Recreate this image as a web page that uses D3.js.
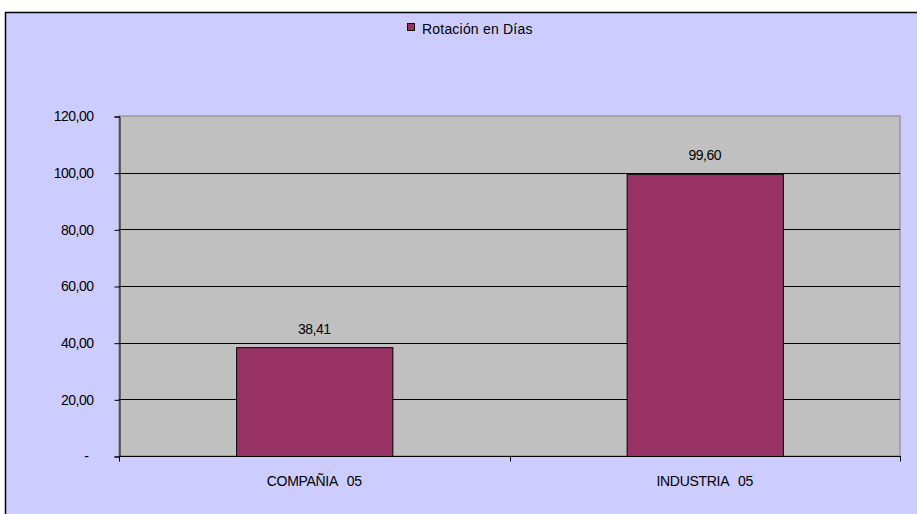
<!DOCTYPE html>
<html><head><meta charset="utf-8">
<script src="https://cdn.jsdelivr.net/npm/d3@7"></script>
<style>html,body{margin:0;padding:0;background:#fff;overflow:hidden}</style>
</head><body>
<script>
const categories = ["COMPAÑIA 05", "INDUSTRIA 05"];
const values = [38.41, 99.60];
const yTicks = [0, 20, 40, 60, 80, 100, 120];
const seriesName = "Rotación en Días";

const W = 917, H = 514;
const svg = d3.select("body").append("svg").attr("width", W).attr("height", H);
const font = "'Liberation Sans', Arial, sans-serif";

// outer frame
svg.append("rect").attr("x", 5.5).attr("y", 12.5).attr("width", 1000).attr("height", 1000)
  .attr("fill", "#CCCCFF").attr("stroke", "#000").attr("stroke-width", 1.5);

const m = {left: 119, right: 900, top: 116, bottom: 456};
const x = d3.scaleBand().domain(categories).range([m.left, m.right]).paddingInner(0.6).paddingOuter(0.3);
const y = d3.scaleLinear().domain([0, 120]).range([m.bottom, m.top]);

// plot area
svg.append("rect").attr("x", m.left).attr("y", m.top).attr("width", m.right - m.left).attr("height", m.bottom - m.top)
  .attr("fill", "#C0C0C0").attr("stroke", "#808080").attr("stroke-width", 1);

// gridlines
svg.append("g").selectAll("line").data(yTicks.filter(d => d > 0 && d < 120)).join("line")
  .attr("x1", m.left).attr("x2", m.right)
  .attr("y1", d => Math.round(y(d)) + 0.5).attr("y2", d => Math.round(y(d)) + 0.5)
  .attr("stroke", "#000").attr("stroke-width", 1);

// bars
svg.append("g").selectAll("rect").data(values).join("rect")
  .attr("x", (d, i) => x(categories[i]) + 0.5)
  .attr("y", d => y(d) + 0.5)
  .attr("width", x.bandwidth())
  .attr("height", d => m.bottom - y(d))
  .attr("fill", "#993366").attr("stroke", "#000").attr("stroke-width", 1);

// value labels
svg.append("g").selectAll("text").data(values).join("text")
  .attr("x", (d, i) => x(categories[i]) + x.bandwidth() / 2)
  .attr("y", d => y(d) - 13.5)
  .attr("text-anchor", "middle").attr("font-family", font).attr("font-size", 14).attr("fill", "#000")
  .attr("letter-spacing", -0.5)
  .text(d => d.toFixed(2).replace(".", ","));

// y axis
const yAxis = d3.axisLeft(y).tickValues(yTicks).tickSize(5).tickPadding(20)
  .tickFormat(d => d === 0 ? "-" : d.toFixed(2).replace(".", ","));
const gy = svg.append("g").attr("transform", `translate(${m.left + 0.5},0.5)`).call(yAxis);
gy.select(".domain").attr("stroke", "#000");
gy.selectAll(".tick line").attr("stroke", "#000");
gy.selectAll(".tick text").attr("font-family", font).attr("font-size", 14).attr("fill", "#000")
  .attr("letter-spacing", -0.5).attr("dx", -1);
gy.selectAll(".tick text").filter(d => d === 0).attr("dx", -6);

// x axis
const gx = svg.append("g").attr("transform", `translate(0,${m.bottom + 0.5})`);
gx.append("line").attr("x1", m.left).attr("x2", m.right + 1).attr("y1", 0).attr("y2", 0).attr("stroke", "#000");
const xTickPos = [m.left, (m.left + m.right) / 2, m.right];
gx.selectAll("line.t").data(xTickPos).join("line").attr("class", "t")
  .attr("x1", d => Math.round(d) + 0.5).attr("x2", d => Math.round(d) + 0.5).attr("y1", 0).attr("y2", 5)
  .attr("stroke", "#000");
gx.selectAll("text").data(categories).join("text")
  .attr("x", d => x(d) + x.bandwidth() / 2).attr("y", 29.5)
  .attr("text-anchor", "middle").attr("font-family", font).attr("font-size", 14).attr("fill", "#000")
  .attr("letter-spacing", -0.3).attr("word-spacing", 6)
  .text(d => d);

// legend
const lg = svg.append("g");
lg.append("rect").attr("x", 407.5).attr("y", 23.5).attr("width", 7).attr("height", 7)
  .attr("fill", "#993366").attr("stroke", "#000").attr("stroke-width", 1);
lg.append("text").attr("x", 422).attr("y", 34).attr("font-family", font).attr("font-size", 14)
  .attr("letter-spacing", 0.2).attr("fill", "#000").text(seriesName);
</script>
</body></html>
